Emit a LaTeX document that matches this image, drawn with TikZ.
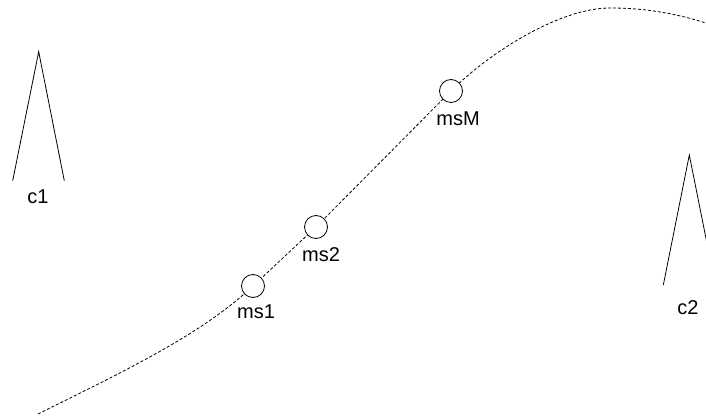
\documentclass[tikz,border=0pt]{standalone}
\usepackage{fontspec}
\setmainfont{Liberation Sans}
\usepackage{tikz}

\tikzset{
	station/.style={circle,draw,fill=white,line width=0.8pt,minimum size=23pt,inner sep=0pt},
	tag/.style={anchor=base,font=\fontsize{20}{20}\selectfont},
	path line/.style={line width=0.8pt,dash pattern=on 3pt off 2pt}
}

\begin{document}
\begin{tikzpicture}[x=1pt,y=-1pt]
		\useasboundingbox (0,0) rectangle (706,419);
		% Dashed path of the mobile
		\draw[path line] (38,414) .. controls (120,373) and (200,336) .. (253,286)
			-- (316,227) -- (451,91)
			.. controls (490,52) and (560,8) .. (610,8)
			.. controls (650,8) and (680,15) .. (706,23);
		% Mobile stations on the path
		\node[station] (ms1) at (253,286) {};
		\node[station] (ms2) at (316,227) {};
		\node[station] (msM) at (451,91) {};
		\node[tag] (ms1 text) at (256,318) {ms1};
		\node[tag] (ms2 text) at (321,262) {ms2};
		\node[tag] (msM text) at (458,126) {msM};
		% Cell antennas
		\begin{scope}[line width=0.8pt]
			\draw (12.7,180.7) -- (38.7,51.7) -- (64.3,180.7);
			\node[tag] (c1) at (38,204) {c1};
			\draw (663.3,285) -- (689.3,155) -- (715.3,285);
			\node[tag] (c2) at (688,315) {c2};
		\end{scope}
	\end{tikzpicture}
\end{document}
